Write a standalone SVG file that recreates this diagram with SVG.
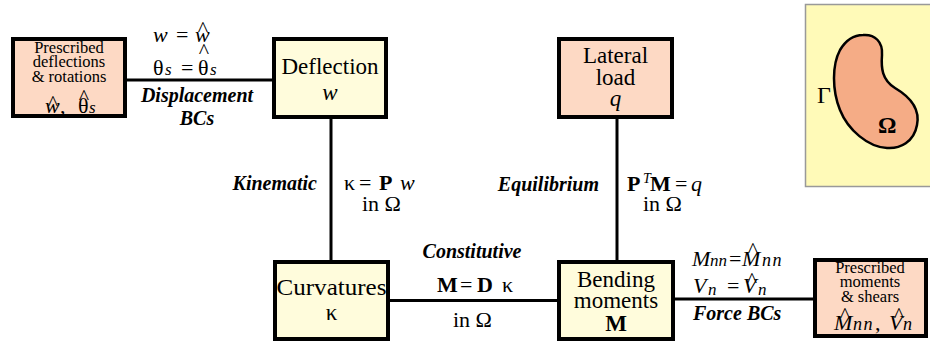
<svg xmlns="http://www.w3.org/2000/svg" width="930" height="345" viewBox="0 0 930 345" font-family="Liberation Serif">
<style>
.box{stroke:#000;stroke-width:4}
.peach{fill:#FDD9C4}
.yel{fill:#FFFCDC}
.con{stroke:#000;stroke-width:3;fill:none}
.big{font-size:23px;text-anchor:middle}
.sm{font-size:16.5px;text-anchor:middle}
.m{font-size:22px}
.i{font-style:italic}
.b{font-weight:bold}
.sub{font-size:17px;font-style:italic}
.nn{font-size:18px;font-style:italic;letter-spacing:1.5px}
.lab{font-size:20px;font-weight:bold;font-style:italic}
.hat{font-size:22px;text-anchor:middle}
</style>
<rect x="0" y="0" width="930" height="345" fill="#fff"/>
<g id="connectors">
<line class="con" x1="127" y1="80" x2="272" y2="80"/>
<line class="con" x1="331" y1="119" x2="331" y2="260"/>
<line class="con" x1="617" y1="119" x2="617" y2="260"/>
<line class="con" x1="390" y1="300.5" x2="557" y2="300.5"/>
<line class="con" x1="675" y1="299" x2="813" y2="299"/>
</g>
<g id="prescribed-deflections">
<rect class="box peach" x="13" y="39" width="112" height="77"/>
<text class="sm" x="69" y="53">Prescribed</text>
<text class="sm" x="69" y="67">deflections</text>
<text class="sm" x="69" y="82">&amp; rotations</text>
<text class="m" y="113"><tspan class="i" x="45">w</tspan><tspan x="60">,</tspan><tspan x="78">θ</tspan><tspan class="sub" x="89">s</tspan></text>
<text class="hat" x="53" y="110">^</text>
<text class="hat" x="84" y="104">^</text>
</g>
<g id="deflection">
<rect class="box yel" x="274" y="39" width="112" height="78"/>
<text class="big" x="330" y="74">Deflection</text>
<text class="big i" x="330" y="100">w</text>
</g>
<g id="lateral-load">
<rect class="box peach" x="559" y="39" width="113" height="78"/>
<text class="big" x="615.5" y="63">Lateral</text>
<text class="big" x="615.5" y="85">load</text>
<text class="big i" x="615.5" y="106">q</text>
</g>
<g id="domain">
<rect x="805.5" y="4.5" width="130" height="182" fill="#FFFAB8" stroke="#999" stroke-width="1.5"/>
<path d="M863,35 C875,34 883,42 882,55 C881,68 882,80 895,88 C912,98 920,110 917,125 C914,142 900,149 887,148 C868,147 848,130 840,110 C832,90 832,65 840,50 C846,40 853,35 863,35 Z" fill="#F5AC86" stroke="#000" stroke-width="2.5"/>
<text x="817" y="103" font-size="24">Γ</text>
<text x="878" y="133" font-size="23" font-weight="bold">Ω</text>
</g>
<g id="curvatures">
<rect class="box yel" x="275" y="262" width="113" height="77"/>
<text class="big" x="331.5" y="295" textLength="110" lengthAdjust="spacingAndGlyphs">Curvatures</text>
<text class="big" x="331.5" y="320">κ</text>
</g>
<g id="bending-moments">
<rect class="box yel" x="559" y="262" width="114" height="77"/>
<text class="big" x="616" y="287">Bending</text>
<text class="big" x="616" y="307.5">moments</text>
<text class="big b" x="616" y="331">M</text>
</g>
<g id="prescribed-moments">
<rect class="box peach" x="815" y="260" width="111" height="76"/>
<text class="sm" x="870" y="273">Prescribed</text>
<text class="sm" x="870" y="287">moments</text>
<text class="sm" x="870" y="301.5">&amp; shears</text>
<text class="m" y="330"><tspan class="i" x="834">M</tspan><tspan class="nn" x="853">nn</tspan><tspan x="875">,</tspan><tspan class="i" x="889">V</tspan><tspan class="nn" x="903">n</tspan></text>
<text class="hat" x="845" y="322">^</text>
<text class="hat" x="899" y="322">^</text>
</g>
<g id="labels">
<text class="m" y="41.5"><tspan class="i" x="153">w</tspan><tspan x="176">=</tspan><tspan class="i" x="195">w</tspan></text>
<text class="hat" x="203" y="36">^</text>
<text class="m" y="74.5"><tspan x="153">θ</tspan><tspan class="sub" x="165">s</tspan><tspan x="181">=</tspan><tspan x="198">θ</tspan><tspan class="sub" x="210">s</tspan></text>
<text class="hat" x="204" y="58">^</text>
<text class="lab" x="197" y="102" text-anchor="middle">Displacement</text>
<text class="lab" x="197" y="125" text-anchor="middle">BCs</text>
<text class="lab" x="317" y="190" text-anchor="end">Kinematic</text>
<text class="m" y="190"><tspan x="344">κ</tspan><tspan x="359">=</tspan><tspan class="b" x="379">P</tspan><tspan class="i" x="400">w</tspan></text>
<text class="m" x="362" y="211">in Ω</text>
<text class="lab" x="599" y="191" text-anchor="end">Equilibrium</text>
<text class="m" y="191"><tspan class="b" x="627">P</tspan><tspan class="i" x="643" y="183" font-size="14">T</tspan><tspan class="b" x="650" y="191">M</tspan><tspan x="675">=</tspan><tspan class="i" x="691">q</tspan></text>
<text class="m" x="643" y="211">in Ω</text>
<text class="lab" x="472" y="258" text-anchor="middle">Constitutive</text>
<text class="m" y="292"><tspan class="b" x="437">M</tspan><tspan x="460">=</tspan><tspan class="b" x="477">D</tspan><tspan x="502">κ</tspan></text>
<text class="m" x="453" y="327">in Ω</text>
<text class="m" y="266"><tspan class="i" x="692">M</tspan><tspan class="sub" x="710">nn</tspan><tspan x="729">=</tspan><tspan class="i" x="742">M</tspan><tspan class="nn" x="762">nn</tspan></text>
<text class="hat" x="753" y="256.5">^</text>
<text class="m" y="293"><tspan class="i" x="693">V</tspan><tspan class="sub" x="708" y="295">n</tspan><tspan x="727" y="293">=</tspan><tspan class="i" x="743">V</tspan><tspan class="sub" x="758" y="295">n</tspan></text>
<text class="hat" x="752" y="286.5">^</text>
<text class="lab" x="693" y="320">Force BCs</text>
</g>
</svg>
